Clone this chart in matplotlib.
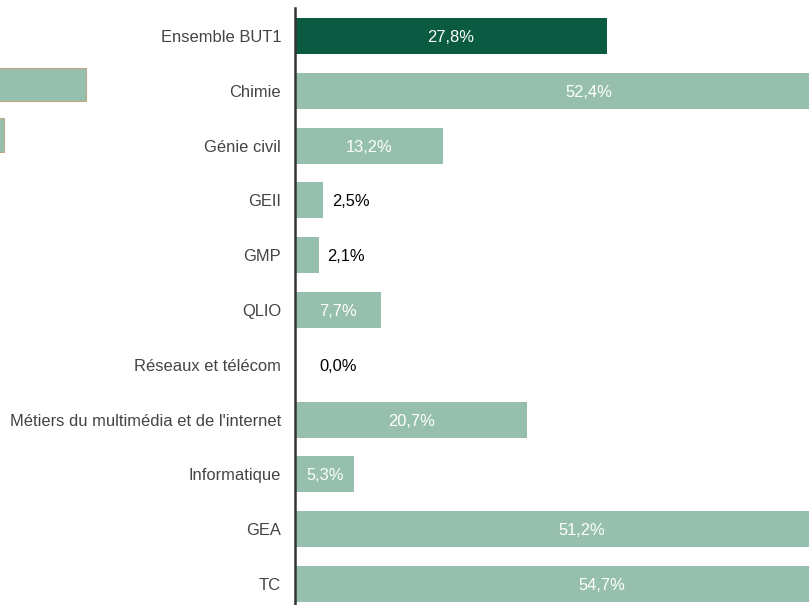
import matplotlib
matplotlib.use("Agg")
import matplotlib.pyplot as plt

plt.rcParams['font.family'] = ['Liberation Sans', 'DejaVu Sans']

categories = ["Ensemble BUT1", "Chimie", "Génie civil", "GEII", "GMP", "QLIO",
              "Réseaux et télécom", "Métiers du multimédia et de l'internet",
              "Informatique", "GEA", "TC"]
values = [27.8, 52.4, 13.2, 2.5, 2.1, 7.7, 0.0, 20.7, 5.3, 51.2, 54.7]
labels = ["27,8%", "52,4%", "13,2%", "2,5%", "2,1%", "7,7%", "0,0%",
          "20,7%", "5,3%", "51,2%", "54,7%"]

# stray clipped bars visible at the far left of the reference
stray_values = [7.9, 0.55]
stray_pos = [0.885, 1.81]

DARK = "#0b5a42"
LIGHT = "#96c0ad"

W, H = 809, 605
fig = plt.figure(figsize=(W / 100, H / 100), dpi=100)

ax = fig.add_axes([295 / W, 0, 514 / W, 597 / H])
colors = [DARK] + [LIGHT] * (len(values) - 1)
ypos = list(range(len(values)))
ax.barh(ypos, values, height=0.66, color=colors, edgecolor="none")
ax.set_xlim(0, 514 / 11.22)
ax.set_ylim(10.383, -0.511)

FS = 11.9
for y, v, lab in zip(ypos, values, labels):
    if v >= 5:
        ax.text(v / 2, y, lab, ha="center", va="center_baseline", color="white",
                fontsize=FS, clip_on=False)
    else:
        off = 24 if v == 0 else 9
        ax.annotate(lab, (v, y), xytext=(off, 0), textcoords="offset pixels",
                    ha="left", va="center_baseline", color="black", fontsize=FS)

ax.set_yticks(ypos)
ax.set_yticklabels(categories, fontsize=FS, color="#444444", va="center_baseline")
ax.tick_params(axis="y", length=0, pad=10)
ax.set_xticks([])
for s in ["top", "right", "bottom"]:
    ax.spines[s].set_visible(False)
ax.spines["left"].set_color("#333333")
ax.spines["left"].set_linewidth(1.8)

ax2 = fig.add_axes([0, 0, 200 / W, 597 / H])
ax2.barh(stray_pos, stray_values, height=[0.6, 0.62], left=-0.2, color=LIGHT,
         edgecolor="#c0a888", linewidth=0.8)
ax2.set_xlim(0, 200 / 11.22)
ax2.set_ylim(10.383, -0.511)
ax2.axis("off")
ax2.set_zorder(-1)

fig.savefig("out.png", dpi=100)
